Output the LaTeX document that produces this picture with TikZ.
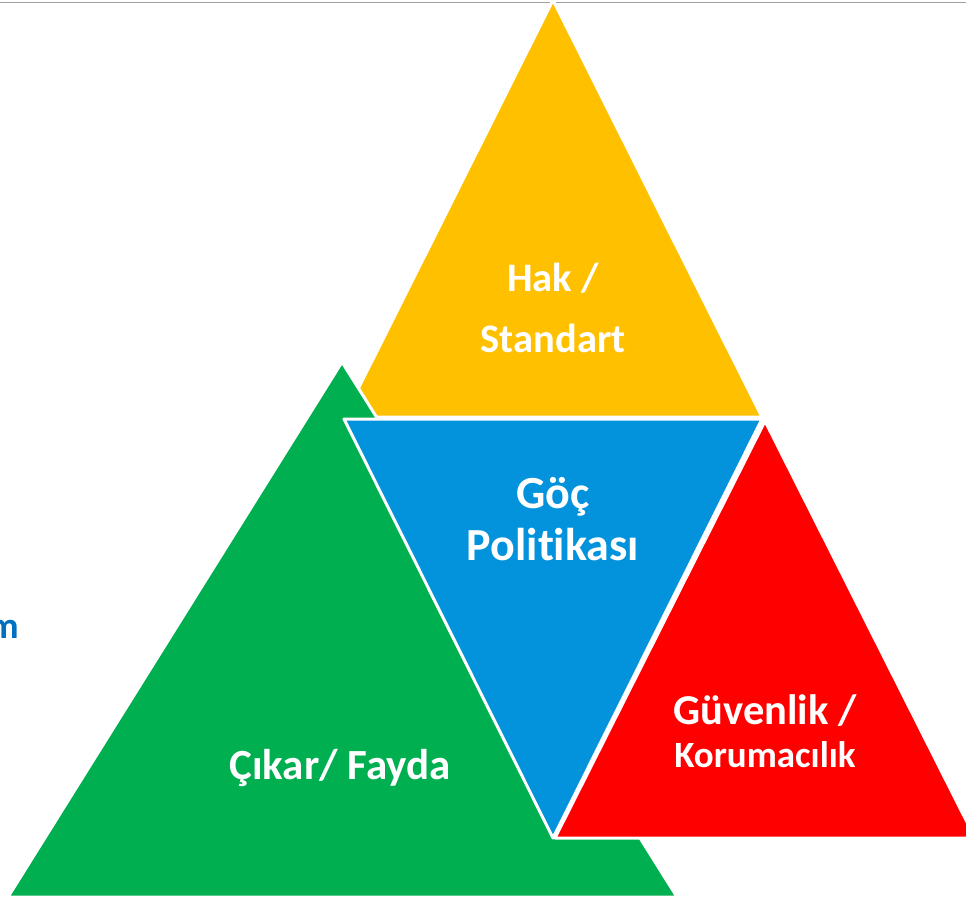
\documentclass[tikz,border=0pt]{standalone}
\usepackage{fontspec}
\setmainfont[Ligatures=NoCommon]{Carlito}
\definecolor{tyellow}{HTML}{FFC000}
\definecolor{tgreen}{HTML}{00B050}
\definecolor{tblue}{HTML}{0393DD}
\definecolor{tred}{HTML}{FF0000}
\definecolor{tdblue}{HTML}{0070C0}
\definecolor{tgray}{HTML}{A0A0A0}
\begin{document}
\begin{tikzpicture}[x=1pt,y=-1pt,
  tri/.style={draw=white,line width=3pt,line join=round},
  lbl/.style={text=white,font=\bfseries,anchor=base,inner sep=0pt}]
\useasboundingbox[fill=white] (0,0) rectangle (966,901);
% top rule
\coordinate (l0) at (0,2.5);
\coordinate (l1) at (966,2.5);
\draw[tgray,line width=1.5pt] (l0) -- (l1);
% triangle corners
\coordinate (y1) at (553,0);
\coordinate (y2) at (344,417);
\coordinate (y3) at (762,417);
\coordinate (g1) at (342,362);
\coordinate (g2) at (8,897);
\coordinate (g3) at (677,897);
\coordinate (r1) at (765,421);
\coordinate (r2) at (555,838);
\coordinate (r3) at (975,838);
\coordinate (b1) at (344,419);
\coordinate (b2) at (762,419);
\coordinate (b3) at (553,838);
\filldraw[tri,fill=tyellow] (y1) -- (y2) -- (y3) -- cycle;
\filldraw[tri,fill=tgreen] (g1) -- (g2) -- (g3) -- cycle;
\filldraw[tri,fill=tred] (r1) -- (r2) -- (r3) -- cycle;
\filldraw[tri,fill=tblue] (b1) -- (b2) -- (b3) -- cycle;
% labels
\node[lbl,font=\bfseries\fontsize{40.5}{42}\selectfont] (hak) at (553,291) {Hak /};
\node[lbl,font=\bfseries\fontsize{40.5}{42}\selectfont] (std) at (553,352) {Standart};
\node[lbl,font=\bfseries\fontsize{46}{48}\selectfont] (goc) at (553,508) {Göç};
\node[lbl,font=\bfseries\fontsize{46}{48}\selectfont] (pol) at (553,560) {Politikası};
\node[lbl,font=\bfseries\fontsize{42.5}{44}\selectfont] (guv) at (765,724) {Güvenlik /};
\node[lbl,font=\bfseries\fontsize{37}{39}\selectfont] (kor) at (765,767) {Korumacılık};
\node[lbl,font=\bfseries\fontsize{43}{45}\selectfont] (cik) at (340,779) {Çıkar/ Fayda};
\node[text=tdblue,font=\bfseries\fontsize{37}{39}\selectfont,anchor=base east,inner sep=0pt] (m) at (19,638) {m};
\end{tikzpicture}
\end{document}
